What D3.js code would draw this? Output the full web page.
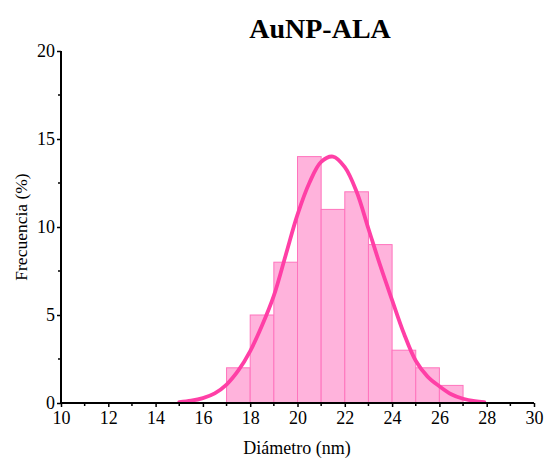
<!DOCTYPE html>
<html><head><meta charset="utf-8">
<script src="https://cdn.jsdelivr.net/npm/d3@7"></script>
<style>body{margin:0;background:#fff}svg{display:block}</style>
</head><body>
<svg id="c" width="547" height="459"></svg>
<script>
const binStarts = [17,18,19,20,21,22,23,24,25,26];
const binWidth = 1;
const freq = [2,5,8,14,11,12,9,3,2,1];
const curveX = [15,15.5,16,16.5,17,17.5,18,18.5,19,19.5,20,20.5,21,21.5,22,22.5,23,23.5,24,24.5,25,25.5,26,26.5,27,27.5,27.9];
const curveY = [0.05,0.13,0.28,0.55,1.05,1.85,2.95,4.4,6.1,8.4,10.7,12.5,13.7,14.0,13.4,12.0,9.9,7.8,5.85,3.95,2.4,1.5,0.95,0.5,0.24,0.1,0.05];
const xTicks = [10,12,14,16,18,20,22,24,26,28,30];
const yTicks = [0,5,10,15,20];

const svg = d3.select('#c');
const x = d3.scaleLinear().domain([10,30]).range([61,534]);
const y = d3.scaleLinear().domain([0,20]).range([403,51]);
const font = '"Liberation Serif","Times New Roman",serif';

svg.append('g').selectAll('rect').data(binStarts).join('rect')
  .attr('x', d => x(d)).attr('width', d => x(d+binWidth)-x(d))
  .attr('y', (d,i) => y(freq[i])).attr('height', (d,i) => y(0)-y(freq[i]))
  .attr('fill', '#ffb3dc').attr('stroke', '#ff74bd').attr('stroke-width', 1);

const line = d3.line().x((d,i)=>x(curveX[i])).y(d=>y(d)).curve(d3.curveCatmullRom);
svg.append('path').datum(curveY).attr('d', line)
  .attr('fill','none').attr('stroke','#ff3fa6').attr('stroke-width',3.8).attr('stroke-linecap','round');

// x axis
const xa = svg.append('g').attr('transform', `translate(0,${y(0)})`)
  .call(d3.axisBottom(x).tickValues(xTicks).tickSize(4).tickPadding(4).tickFormat(d3.format('d')));
xa.append('g').selectAll('line').data(d3.range(11,30,2)).join('line')
  .attr('x1', d=>x(d)).attr('x2', d=>x(d)).attr('y1',0).attr('y2',3).attr('stroke','#000').attr('stroke-width',1.5);
// y axis
const ya = svg.append('g').attr('transform', `translate(${x(10)},0)`)
  .call(d3.axisLeft(y).tickValues(yTicks).tickSize(4).tickPadding(2));
ya.append('g').selectAll('line').data([2.5,7.5,12.5,17.5]).join('line')
  .attr('y1', d=>y(d)).attr('y2', d=>y(d)).attr('x1',0).attr('x2',-3).attr('stroke','#000').attr('stroke-width',1.5);

[xa, ya].forEach(a => {
  a.attr('font-family', font).attr('font-size', 18);
  a.select('.domain').attr('stroke','#000').attr('stroke-width',2);
  a.selectAll('.tick line').attr('stroke','#000').attr('stroke-width',1.5);
  a.selectAll('text').attr('font-family', font).style('font-size', '18px').attr('fill','#000');
});
xa.select('.domain').attr('d', `M${x(10)-1},0H${x(30)}`);
ya.select('.domain').attr('d', `M0,${y(0)}V${y(20)}`);

svg.append('text').attr('x', 320).attr('y', 38).attr('text-anchor','middle')
  .attr('font-family', font).attr('font-weight','bold').style('font-size', '28px').text('AuNP-ALA');
svg.append('text').attr('x', 297).attr('y', 454).attr('text-anchor','middle')
  .attr('font-family', font).style('font-size', '18px').text('Diámetro (nm)');
svg.append('text').attr('transform','translate(27,227) rotate(-90)').attr('text-anchor','middle')
  .attr('font-family', font).style('font-size', '17.5px').text('Frecuencia (%)');
</script>
</body></html>
